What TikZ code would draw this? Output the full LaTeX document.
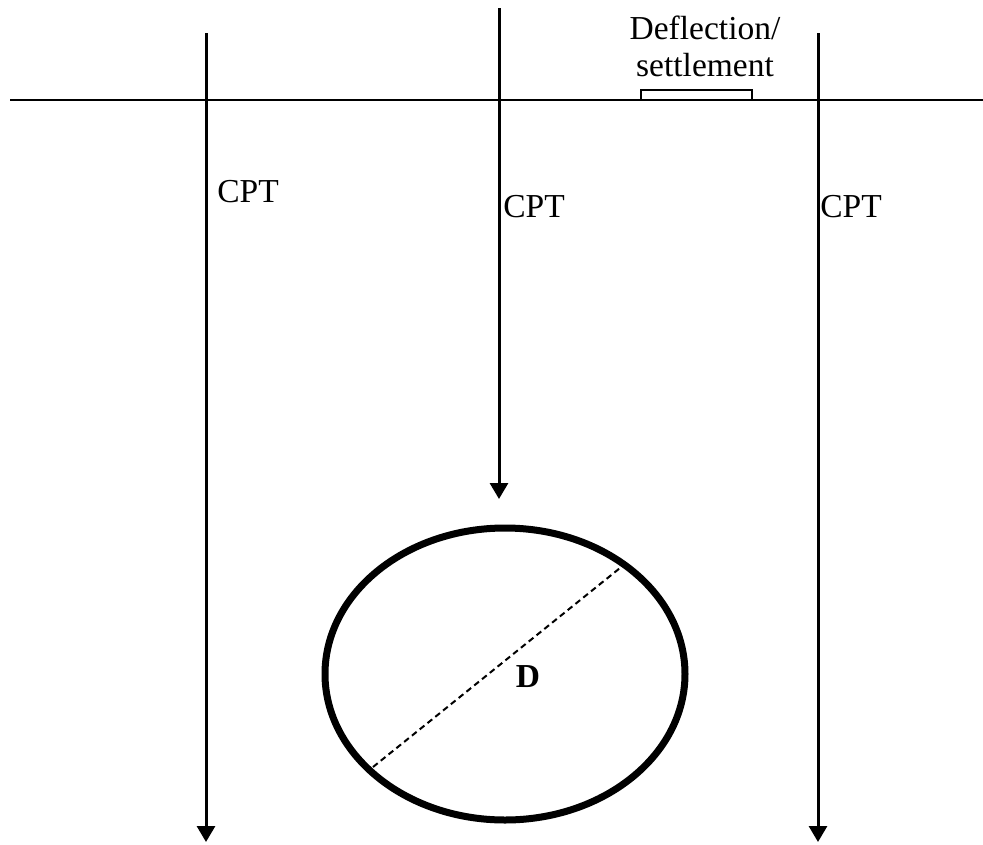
\documentclass[tikz,border=0pt]{standalone}
\usepackage{fontspec}
\setmainfont{Liberation Serif}
\usetikzlibrary{arrows.meta,shapes.geometric}
\begin{document}
\begin{tikzpicture}[x=1pt,y=-1pt,
  probe/.style={line width=3pt,-{Triangle[width=18pt,length=16pt]}},
  ground/.style={line width=2pt},
  lbl/.style={inner sep=0pt,font=\fontsize{33.5}{37}\selectfont},
  tunnelshape/.style={draw,ellipse,line width=7pt,minimum width=360pt,minimum height=292pt,inner sep=0pt},
  diam/.style={line width=2pt,dash pattern=on 6pt off 4pt},
  gauge/.style={draw,line width=2pt,fill=white}]
\useasboundingbox (0,0) rectangle (983,844);
% ground surface
\coordinate (gL) at (10,100);
\coordinate (gR) at (983,100);
\draw[ground] (gL) -- (gR);
% settlement gauge
\node[gauge,minimum width=111pt,minimum height=10pt,inner sep=0pt] (gauge) at (696.5,95) {};
\node[lbl,align=center,anchor=south] (deflbl) at (705,77) {Deflection/\\settlement};
% CPT probes
\coordinate (p1s) at (206,33);
\coordinate (p1e) at (206,842);
\coordinate (p2s) at (499,8);
\coordinate (p2e) at (499,499);
\coordinate (p3s) at (818,33);
\coordinate (p3e) at (818,842);
\draw[probe] (p1s) -- (p1e);
\draw[probe] (p2s) -- (p2e);
\draw[probe] (p3s) -- (p3e);
\node[lbl] (cpt1) at (248,192) {CPT};
\node[lbl] (cpt2) at (534,207) {CPT};
\node[lbl] (cpt3) at (851,207) {CPT};
% tunnel
\node[tunnelshape] (tunnel) at (505,674) {};
\coordinate (dA) at (373,767);
\coordinate (dB) at (620,568);
\draw[diam] (dA) -- (dB);
\node[lbl,font=\fontsize{33.5}{37}\selectfont\bfseries] (dlbl) at (528,677) {D};
\end{tikzpicture}
\end{document}
